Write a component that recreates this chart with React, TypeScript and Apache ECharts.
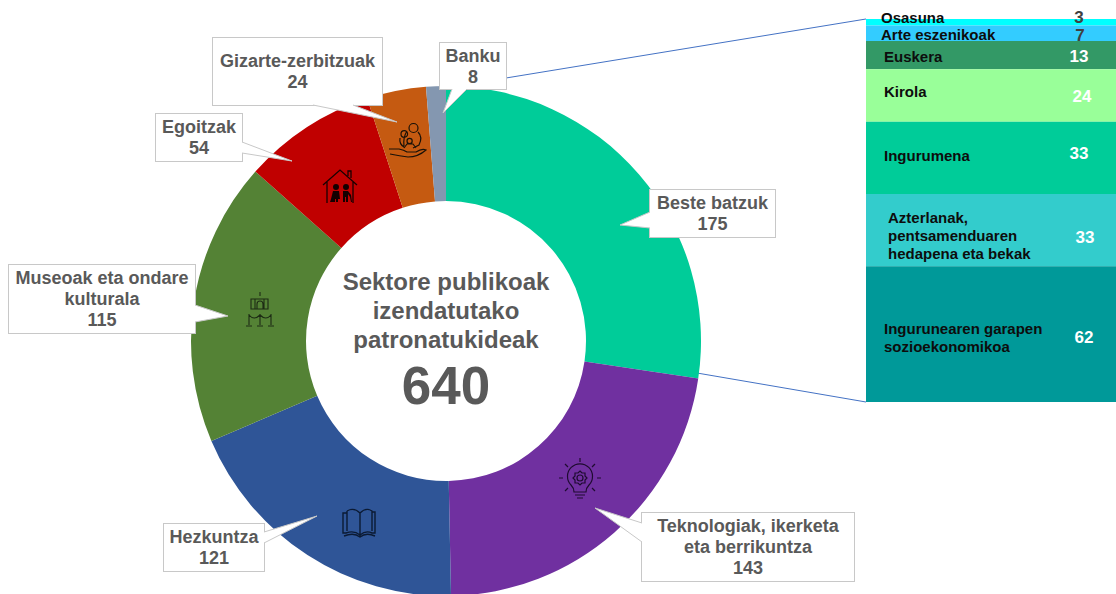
import React, { useEffect, useRef } from "react";
import * as echarts from "echarts";

const sectorNames = ["Beste batzuk", "Teknologiak, ikerketa\neta berrikuntza", "Hezkuntza", "Museoak eta ondare\nkulturala", "Egoitzak", "Gizarte-zerbitzuak", "Banku"];
const sectorValues = [175, 143, 121, 115, 54, 24, 8];
const sectorColors = ["#00CC99", "#7030A0", "#2F5597", "#548235", "#C00000", "#C55A11", "#8497B0"];
const detailNames = ["Osasuna", "Arte eszenikoak", "Euskera", "Kirola", "Ingurumena", "Azterlanak,\npentsamenduaren\nhedapena eta bekak", "Ingurunearen garapen\nsozioekonomikoa"];
const detailValues = [3, 7, 13, 24, 33, 33, 62];
const detailColors = ["#00FFFF", "#33CCFF", "#339966", "#99FF99", "#00CC99", "#33CCCC", "#009999"];
const detailValueColors = ["#404040", "#404040", "#FFFFFF", "#FFFFFF", "#FFFFFF", "#FFFFFF", "#FFFFFF"];
const centerLines = ["Sektore publikoak", "izendatutako", "patronatukideak"];
const centerTotal = "640";

// layout only
const boxes = [[650, 190, 125, 47], [642, 513, 212, 68], [164, 524, 100, 47], [9, 265, 186, 68], [156, 114, 86, 47], [213, 38, 169, 67], [440, 43, 66, 46]];
const wedges = [
  [[650, 212], [620, 225], [650, 228]],
  [[642, 523], [595, 508], [642, 542]],
  [[264, 532], [317, 516], [264, 543]],
  [[195, 305], [228, 316], [195, 322]],
  [[242, 142], [292, 161], [242, 153]],
  [[313, 105], [397, 122], [353, 105]],
  [[452, 89], [443, 113], [467, 89]],
];
const nameOffsets = [[15, -5], [15, 1.5], [18, 1], [18, -4.5], [18, -2], [22, 5], [18, 3]];
const valueOffsets = [[88, -5], [89, 2], [88, 1], [91, 0.5], [88, -4], [94, 7], [93, 3]];

const iconPaths: Record<string, string> = {
  iconFamily: "M29 13a4.5 4.5 0 1 0 9 0a4.5 4.5 0 1 0 -9 0M21 19a3.3 3.3 0 1 0 6.6 0a3.3 3.3 0 1 0 -6.6 0M27 26a2.6 2.6 0 1 0 5.2 0a2.6 2.6 0 1 0 -5.2 0M27 16Q23 22 24 31M38 17Q43 22 39 30L33 33M20 23Q19 29 24 32M24 33L27 29H33L36 33M9 34L19 34Q24 35 27 37L36 37Q42 33 46 35Q38 42 28 42Q20 41 10 39",
  iconHouse: "M8 23L25 8L42 23M33 14V9H36V16M12 20V41M38 20V41",
  iconPeople: "M18 25a3 3 0 1 0 6 0a3 3 0 1 0 -6 0ZM28 25a3 3 0 1 0 6 0a3 3 0 1 0 -6 0ZM16 37L18 29H24L25 37H23V40H21V37H20V40H15Z M28 29H33L36 33L37 40H36L35 35L33 32V40H31V35H30V40H28Z",
  iconMuseum: "M16 14H33V24H16ZM20 14V24M29 14V24M25 7V11M22 19a3 3 0 1 1 6 0V24H22ZM14 29V40M25 29V40M36 29V40M14 30Q19 36 25 30Q31 36 36 30M11 41H17M22 41H28M33 41H39",
  iconBulb: "M19 37Q19 33 16 30A12.5 12.5 0 1 1 34 30Q31 33 31 37ZM20 40H30M22 43H28M25 3V7M10 9L13 12M40 9L37 12M4 23H8M42 23H46M10 36L13 33M40 36L37 33M25 16L27 18H30L30 21L32 23L30 25L30 28H27L25 30L23 28H20L20 25L18 23L20 21L20 18H23ZM22 23a3 3 0 1 0 6 0a3 3 0 1 0 -6 0",
  iconBook: "M6 7Q13 3 19 9V31Q13 26 5 29H2V9H6M6 7V27M19 9Q25 3 31 7V27M31 8H34V29H31Q25 26 19 31M19 31V33M3 32Q13 28 19 33Q25 28 34 32",
};
const iconPlacement: any[] = [
  ["iconFamily", 380, 115, "#1A1208", null, 1.2],
  ["iconHouse", 315, 162, "#1A0000", null, 1.3],
  ["iconPeople", 315, 162, "none", "#140000", 0],
  ["iconMuseum", 235, 285, "#1D2B14", null, 1.1],
  ["iconBulb", 555, 455, "#1E0B30", null, 1.2],
  ["iconBook", 341, 504, "#0B1A33", null, 1.4],
];

Object.keys(iconPaths).forEach((k) => {
  echarts.graphic.registerShape(k, echarts.graphic.extendPath(iconPaths[k], {}) as any);
});

const FONT = "'Liberation Sans', Arial, sans-serif";
const GREY = "#595959";

export default function App() {
  const ref = useRef<HTMLDivElement>(null);
  useEffect(() => {
    const chart = echarts.init(ref.current!, undefined, { renderer: "svg" });
    const total = detailValues.reduce((a, b) => a + b, 0);

    const nameSeries = detailNames.map((n, i) => ({
      type: "bar", name: n, stack: "seg", barWidth: "100%", barGap: "-100%", silent: true,
      data: [detailValues[i]],
      itemStyle: { color: detailColors[i] },
      z: 3,
      label: {
        show: true, position: "insideLeft", distance: 0, offset: nameOffsets[i],
        formatter: n, color: "#0D0D0D", fontFamily: FONT, fontWeight: "bold", fontSize: 15, lineHeight: 18, align: "left",
      },
    }));
    const valueSeries = detailValues.map((v, i) => ({
      type: "bar", name: "v" + i, stack: "val", barWidth: "100%", silent: true,
      data: [v],
      itemStyle: { color: "transparent" },
      z: 4,
      label: {
        show: true, position: "inside", offset: valueOffsets[i], formatter: String(v),
        color: detailValueColors[i], fontFamily: FONT, fontWeight: "bold", fontSize: 17,
      },
    }));

    const graphic: any[] = [
      { type: "line", z: 1, shape: { x1: 506, y1: 78, x2: 866, y2: 19 }, style: { stroke: "#4472C4", lineWidth: 1 } },
      { type: "line", z: 1, shape: { x1: 697, y1: 373, x2: 866, y2: 402 }, style: { stroke: "#4472C4", lineWidth: 1 } },
      ...wedges.flatMap((w) => [
        { type: "polygon", z: 100, shape: { points: w }, style: { fill: "#FFFFFF", stroke: "none" } },
        { type: "polyline", z: 101, shape: { points: w }, style: { fill: "none", stroke: "#C8C8C8", lineWidth: 1 } },
      ]),
      ...iconPlacement.map(([type, x, y, stroke, fill, lineWidth]) => ({
        type, x, y, z: 50, style: { stroke, fill: fill || "none", lineWidth },
      })),
      ...centerLines.map((t, i) => ({
        type: "text", z: 60, x: 446, y: 281 + i * 29,
        style: { text: t, fill: GREY, font: `bold 24px ${FONT}`, align: "center", verticalAlign: "middle" },
      })),
      { type: "text", z: 60, x: 446, y: 385, style: { text: centerTotal, fill: GREY, font: `bold 53px ${FONT}`, align: "center", verticalAlign: "middle" } },
    ];

    chart.setOption({
      animation: false,
      grid: { left: 866, top: 19, width: 250, height: 383, containLabel: false },
      xAxis: { type: "category", data: ["detail"], show: false },
      yAxis: { type: "value", inverse: true, min: 0, max: total, show: false },
      graphic,
      series: [
        ...nameSeries,
        ...valueSeries,
        {
          type: "pie", center: [446, 341], radius: [140, 255], startAngle: 90, clockwise: true,
          avoidLabelOverlap: false, silent: true, z: 2,
          labelLine: { show: false },
          data: sectorNames.map((n, i) => ({
            name: n, value: sectorValues[i],
            itemStyle: { color: sectorColors[i] },
            label: { width: boxes[i][2], height: boxes[i][3] },
          })),
          label: {
            show: true, position: "outside", formatter: "{b}\n{c}", color: GREY,
            fontFamily: FONT, fontWeight: "bold", fontSize: 18, lineHeight: 21,
            align: "center", verticalAlign: "middle",
            backgroundColor: "#FFFFFF", borderColor: "#C8C8C8", borderWidth: 1,
          },
          labelLayout: (p: any) => {
            const b = boxes[p.dataIndex];
            return { x: b[0] + b[2] / 2, y: b[1] + b[3] / 2, align: "center", verticalAlign: "middle" };
          },
        },
      ],
    } as any);
    return () => chart.dispose();
  }, []);
  return <div ref={ref} style={{ position: "absolute", left: 0, top: 0, width: 1116, height: 594 }} />;
}
